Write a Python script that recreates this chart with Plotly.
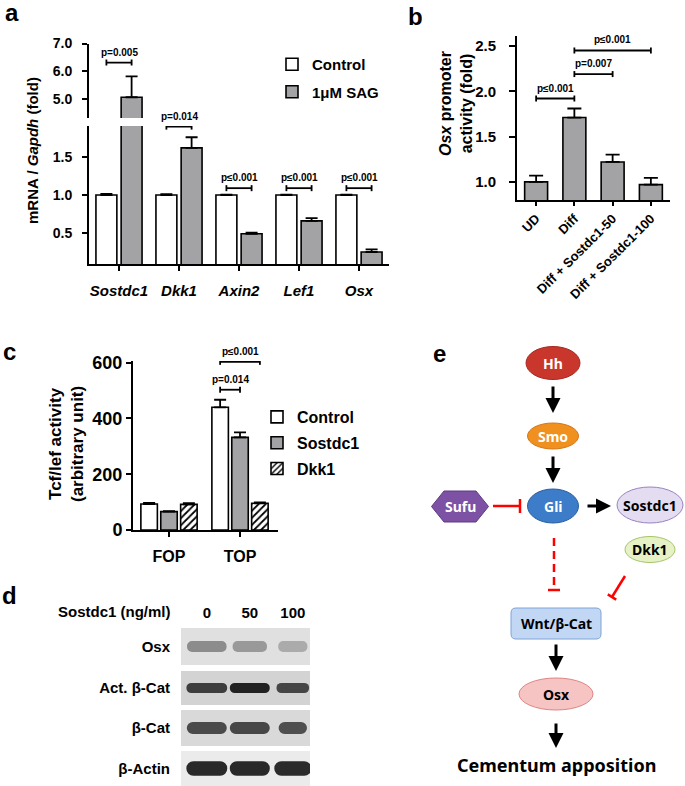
import plotly.graph_objects as go

W, H = 685, 786

# ---- panel a: qPCR, control vs SAG
genes = ['Sostdc1', 'Dkk1', 'Axin2', 'Lef1', 'Osx']
ctrl_a = [1.0, 1.0, 1.0, 1.0, 1.0]
ctrl_a_err = [0.015, 0.01, 0.005, 0.005, 0.005]
sag_a = [5.06, 1.62, 0.49, 0.66, 0.25]
sag_a_err = [0.75, 0.14, 0.015, 0.035, 0.035]
p_a = ['p=0.005', 'p=0.014', 'p≤0.001', 'p≤0.001', 'p≤0.001']

# ---- panel b: Osx promoter activity
groups_b = ['UD', 'Diff', 'Diff + Sostdc1-50', 'Diff + Sostdc1-100']
osx_b = [1.0, 1.71, 1.22, 0.97]
osx_b_err = [0.07, 0.10, 0.08, 0.075]
p_b = ['p≤0.001', 'p=0.007', 'p≤0.001']
pairs_b = [(0, 1), (1, 2), (1, 3)]

# ---- panel c: Tcf/lef reporter
reporters = ['FOP', 'TOP']
ctrl_c = [93, 440]
ctrl_c_err = [4, 27]
sost_c = [66, 332]
sost_c_err = [2, 18]
dkk_c = [92, 96]
dkk_c_err = [4, 3]
p_c = ['p=0.014', 'p≤0.001']

# ---- panel d: western blot
doses = ['0', '50', '100']
blots = ['Osx', 'Act. β-Cat', 'β-Cat', 'β-Actin']
band_density = [[0.45, 0.40, 0.33],
                [0.76, 0.87, 0.73],
                [0.71, 0.72, 0.69],
                [0.84, 0.84, 0.83]]

# ---- panel e: pathway nodes
nodes = ['Hh', 'Smo', 'Gli', 'Sufu', 'Sostdc1', 'Dkk1', 'Wnt/β-Cat', 'Osx']

FONT = 'Liberation Sans, Arial, sans-serif'
DIAG = 'Noto Sans, sans-serif'
GREY = '#a3a3a6'


def px_x(a, b):
    return [a / W, b / W]


def px_y(top, bottom):
    return [1 - bottom / H, 1 - top / H]


def bfont(size, color='black', family=FONT):
    return dict(family=family, size=size, color=color, weight='bold')


def ax(tsize, **kw):
    d = dict(showline=True, linecolor='black', linewidth=2, ticks='outside',
             ticklen=5, tickwidth=2, tickcolor='black', showgrid=False,
             zeroline=False, tickfont=bfont(tsize))
    d.update(kw)
    return d


def err(arr, w=6):
    return dict(type='data', array=arr, arrayminus=[0] * len(arr), symmetric=False,
                color='black', thickness=1.8, width=w)


outline = dict(color='black', width=1.6)
fig = go.Figure()

# panel a bars on both halves of the broken axis
xa = list(range(len(genes)))
for yax, show in [('y', False), ('y2', True)]:
    fig.add_trace(go.Bar(x=xa, y=ctrl_a, error_y=err(ctrl_a_err), xaxis='x', yaxis=yax,
                         marker=dict(color='white', line=outline), name='Control',
                         legend='legend', legendgroup='a1', showlegend=show))
    fig.add_trace(go.Bar(x=xa, y=sag_a, error_y=err(sag_a_err), xaxis='x', yaxis=yax,
                         marker=dict(color=GREY, line=outline), name='1μM SAG',
                         legend='legend', legendgroup='a2', showlegend=show))

# panel b
fig.add_trace(go.Bar(x=list(range(len(groups_b))), y=osx_b, error_y=err(osx_b_err, 7),
                     xaxis='x3', yaxis='y3', width=0.6, showlegend=False,
                     marker=dict(color=GREY, line=outline)))

# panel c
xc = list(range(len(reporters)))
fig.add_trace(go.Bar(x=xc, y=ctrl_c, error_y=err(ctrl_c_err), xaxis='x4', yaxis='y4',
                     name='Control', legend='legend2', legendgroup='c1',
                     marker=dict(color='white', line=outline)))
fig.add_trace(go.Bar(x=xc, y=sost_c, error_y=err(sost_c_err), xaxis='x4', yaxis='y4',
                     name='Sostdc1', legend='legend2', legendgroup='c2',
                     marker=dict(color=GREY, line=outline)))
fig.add_trace(go.Bar(x=xc, y=dkk_c, error_y=err(dkk_c_err), xaxis='x4', yaxis='y4',
                     name='Dkk1', legend='legend2', legendgroup='c3',
                     marker=dict(color='white', line=outline,
                                 pattern=dict(shape='/', fgcolor='black', bgcolor='white',
                                              size=5, solidity=0.35))))

# panel d blots
blot_rows = [(628, 665), (671, 705), (710, 746), (751, 786)]
blot_bg = ['#e0e0e0', '#d3d3d3', '#d9d9d9', '#ebebeb']
band_h = [0.30, 0.30, 0.34, 0.42]
band_w = [[0.92, 0.80, 0.68], [0.95, 0.93, 0.76], [0.93, 0.93, 0.66], [0.95, 0.93, 0.86]]
for i, name in enumerate(blots):
    n = 5 + i
    fig.add_trace(go.Bar(x=list(range(len(doses))), y=[band_h[i]] * 3,
                         base=[0.5 - band_h[i] / 2] * 3, width=band_w[i],
                         xaxis=f'x{n}', yaxis=f'y{n}', showlegend=False,
                         marker=dict(color=band_density[i], cmin=0, cmax=1,
                                     colorscale=[[0, '#ffffff'], [1, '#000000']],
                                     line=dict(width=0), cornerradius='50%')))

# overlay axis in page pixels for the diagram and free labels
fig.add_trace(go.Scatter(x=[], y=[], xaxis='x9', yaxis='y9', showlegend=False))

layout = dict(
    width=W, height=H, margin=dict(l=0, r=0, t=0, b=0), template='none',
    paper_bgcolor='white', plot_bgcolor='rgba(0,0,0,0)',
    barmode='group', bargap=0.16, bargroupgap=0.17,
    font=dict(family=FONT, color='black'),
    xaxis=ax(15, domain=px_x(89, 389), range=[-0.5, 4.5], anchor='y2',
             tickvals=xa, ticktext=[f'<i>{g}</i>' for g in genes], ticklabelstandoff=7),
    yaxis=ax(14, domain=px_y(43.5, 118), range=[4.31, 7.0], anchor='x',
             tickvals=[5, 6, 7], tickformat='.1f', ticklabelstandoff=7),
    yaxis2=ax(14, domain=px_y(126, 264), range=[0.092, 1.908], anchor='x',
              tickvals=[0.5, 1.0, 1.5], tickformat='.1f', ticklabelstandoff=7),
    xaxis3=ax(13, domain=px_x(517, 670), range=[-0.5, 3.5], anchor='y3', ticklen=4,
              tickvals=list(range(len(groups_b))), ticktext=groups_b, tickangle=-45),
    yaxis3=ax(15, domain=px_y(36, 200), range=[0.8, 2.61], anchor='x3', ticklen=6,
              tickvals=[1.0, 1.5, 2.0, 2.5], tickformat='.1f', ticklabelstandoff=10),
    xaxis4=ax(16, domain=px_x(133, 278), range=[-0.507, 1.535], anchor='y4',
              tickvals=xc, ticktext=reporters, ticklabelstandoff=6),
    yaxis4=ax(18, domain=px_y(361, 530), range=[0, 606], anchor='x4',
              tickvals=[0, 200, 400, 600]),
    xaxis9=dict(domain=[0, 1], range=[0, W], visible=False, anchor='y9'),
    yaxis9=dict(domain=[0, 1], range=[H, 0], visible=False, anchor='x9'),
    legend=dict(x=272 / W, y=1 - 48 / H, xanchor='left', yanchor='top',
                font=bfont(15), bgcolor='rgba(0,0,0,0)', tracegroupgap=5),
    legend2=dict(x=257 / W, y=1 - 400 / H, xanchor='left', yanchor='top',
                 font=bfont(16), bgcolor='rgba(0,0,0,0)', tracegroupgap=2),
)
for i, name in enumerate(blots):
    n = 5 + i
    top, bot = blot_rows[i]
    layout[f'xaxis{n}'] = dict(domain=px_x(181, 310), range=[-0.6, 2.4], anchor=f'y{n}',
                               showgrid=False, zeroline=False, showline=False,
                               ticks='', showticklabels=(i == 0), side='top',
                               tickvals=list(range(len(doses))), ticktext=doses,
                               tickfont=bfont(15), ticklabelstandoff=6)
    layout[f'yaxis{n}'] = dict(domain=px_y(top, bot), range=[0, 1], anchor=f'x{n}',
                               showgrid=False, zeroline=False, showline=False, ticks='',
                               tickvals=[0.5], ticktext=[name], tickfont=bfont(15),
                               ticklabelstandoff=10)
fig.update_layout(**layout)

shapes = []
annos = []


def bracket(x0, x1, y, xref, yref, text, size=10):
    line = dict(color='black', width=1.8)
    shapes.append(dict(type='line', xref=xref, yref=yref, x0=x0, x1=x1, y0=y, y1=y, line=line))
    for xx in (x0, x1):
        shapes.append(dict(type='line', xref=xref, yref=yref, ysizemode='pixel', yanchor=y,
                           x0=xx, x1=xx, y0=-3, y1=3, line=line))
    annos.append(dict(x=(x0 + x1) / 2, y=y, xref=xref, yref=yref, text=text, showarrow=False,
                      yanchor='bottom', yshift=3, font=bfont(size)))


# panel a brackets
half_a = (1 - 0.16) / 4
br_a = [(6.31, 'y'), (1.90, 'y2'), (1.09, 'y2'), (1.09, 'y2'), (1.09, 'y2')]
for i, (yy, yref) in enumerate(br_a):
    bracket(i - half_a, i + half_a, yy, 'x', yref, p_a[i])

# panel b brackets
br_b = [1.92, 2.19, 2.45]
for (i, j), yy, t in zip(pairs_b, br_b, p_b):
    bracket(i, j, yy, 'x3', 'y3', t)

# panel c brackets (TOP group)
slot_c = (1 - 0.16) / 3
bracket(1 - slot_c, 1, 503, 'x4', 'y4', p_c[0])
bracket(1 - slot_c, 1 + slot_c, 603, 'x4', 'y4', p_c[1])

# blot backgrounds
for i in range(len(blots)):
    n = 5 + i
    shapes.append(dict(type='rect', xref=f'x{n} domain', yref=f'y{n} domain', x0=0, x1=1,
                       y0=0, y1=1, fillcolor=blot_bg[i], line=dict(width=0), layer='below'))

# axis titles and panel labels (page pixel coordinates)
P = dict(xref='x9', yref='y9', showarrow=False)
annos += [
    dict(x=32, y=151, text='mRNA / <i>Gapdh</i> (fold)', textangle=-90, font=bfont(15), **P),
    dict(x=456, y=104, text='<i>Osx</i> promoter<br>activity (fold)', textangle=-90,
         font=bfont(16), **P),
    dict(x=66, y=444, text='Tcf/lef activity<br>(arbitrary unit)', textangle=-90,
         font=bfont(17), **P),
    dict(x=173, y=611, text='Sostdc1 (ng/ml)', xanchor='right', font=bfont(15), **P),
]
for lab, xx, yy in [('a', 12, 12), ('b', 415, 16), ('c', 9, 351), ('d', 9, 595), ('e', 439, 353)]:
    annos.append(dict(x=xx, y=yy, text=lab, font=bfont(24), **P))

# ---- panel e diagram
geo = {
    'Hh': dict(c=(553, 363), w=54, h=33, fill='#c9372c', line='#a52a23', txt='white'),
    'Smo': dict(c=(553, 436), w=51, h=26, fill='#f0901f', line='#d4761a', txt='white'),
    'Gli': dict(c=(553, 506), w=51, h=34, fill='#3d7cc9', line='#2c609f', txt='white'),
    'Sufu': dict(c=(460, 506.5), w=57, h=31, fill='#7d51a3', line='#5f3b82', txt='white',
                 kind='hex'),
    'Sostdc1': dict(c=(650, 505), w=66, h=36, fill='#e4dcf1', line='#9a83c0', txt='black'),
    'Dkk1': dict(c=(650, 549.5), w=50, h=26, fill='#e6f2c6', line='#a7c46a', txt='black'),
    'Wnt/β-Cat': dict(c=(556, 623.5), w=90, h=31, fill='#c2d7f4', line='#7ea3d6',
                      txt='black', kind='box'),
    'Osx': dict(c=(556, 694), w=74, h=32, fill='#f7c4c4', line='#de8484', txt='black'),
}
for name in nodes:
    g = geo[name]
    cx, cy = g['c']
    hw, hh = g['w'] / 2, g['h'] / 2
    kind = g.get('kind', 'ellipse')
    base = dict(xref='x9', yref='y9', fillcolor=g['fill'], line=dict(color=g['line'], width=1))
    if kind == 'ellipse':
        shapes.append(dict(type='circle', x0=cx - hw, x1=cx + hw, y0=cy - hh, y1=cy + hh, **base))
    elif kind == 'hex':
        k = 12.5
        pts = [(cx - hw, cy), (cx - hw + k, cy - hh), (cx + hw - k, cy - hh), (cx + hw, cy),
               (cx + hw - k, cy + hh), (cx - hw + k, cy + hh)]
        path = 'M ' + ' L '.join(f'{a},{b}' for a, b in pts) + ' Z'
        shapes.append(dict(type='path', path=path, **base))
    else:
        r = 5
        x0, x1, y0, y1 = cx - hw, cx + hw, cy - hh, cy + hh
        path = (f'M {x0 + r},{y0} L {x1 - r},{y0} Q {x1},{y0} {x1},{y0 + r} '
                f'L {x1},{y1 - r} Q {x1},{y1} {x1 - r},{y1} L {x0 + r},{y1} '
                f'Q {x0},{y1} {x0},{y1 - r} L {x0},{y0 + r} Q {x0},{y0} {x0 + r},{y0} Z')
        shapes.append(dict(type='path', path=path, **base))
    annos.append(dict(x=cx, y=cy, text=name, font=bfont(14, g['txt'], DIAG), **P))

# activation arrows (tail -> tip)
arrows = [((553, 385), (553, 413)), ((553, 455), (553, 483)), ((586, 506), (611, 506)),
          ((556, 643), (556, 671)), ((556, 722), (556, 748))]
for (tx, ty), (hx, hy) in arrows:
    annos.append(dict(x=hx, y=hy, ax=tx, ay=ty, xref='x9', yref='y9', axref='x9', ayref='y9',
                      text='', showarrow=True, arrowhead=2, arrowsize=1, arrowwidth=3,
                      arrowcolor='black', standoff=0, startstandoff=0))

# inhibition lines
red = dict(color='#ff0000', width=2.5)
inhib = [
    ((493, 506), (520, 506), (520, 499), (520, 513), 'solid'),
    ((554, 538), (554, 590), (548, 590), (560, 590), '8px,5px'),
    ((625, 576), (612, 597), (607.8, 594.4), (616.2, 599.6), 'solid'),
]
for (a0, b0), (a1, b1), (t0x, t0y), (t1x, t1y), dash in inhib:
    shapes.append(dict(type='line', xref='x9', yref='y9', x0=a0, y0=b0, x1=a1, y1=b1,
                       line=dict(red, dash=dash)))
    shapes.append(dict(type='line', xref='x9', yref='y9', x0=t0x, y0=t0y, x1=t1x, y1=t1y,
                       line=red))

annos.append(dict(x=556, y=765, text='Cementum apposition', font=bfont(18, 'black', DIAG), **P))

fig.update_layout(shapes=shapes, annotations=annos)
# page body has an 8px default margin; drop it so the figure sits at the window origin
fig.write_html('out.html', config={'displayModeBar': False},
               post_script="document.body.style.margin='0px';")
